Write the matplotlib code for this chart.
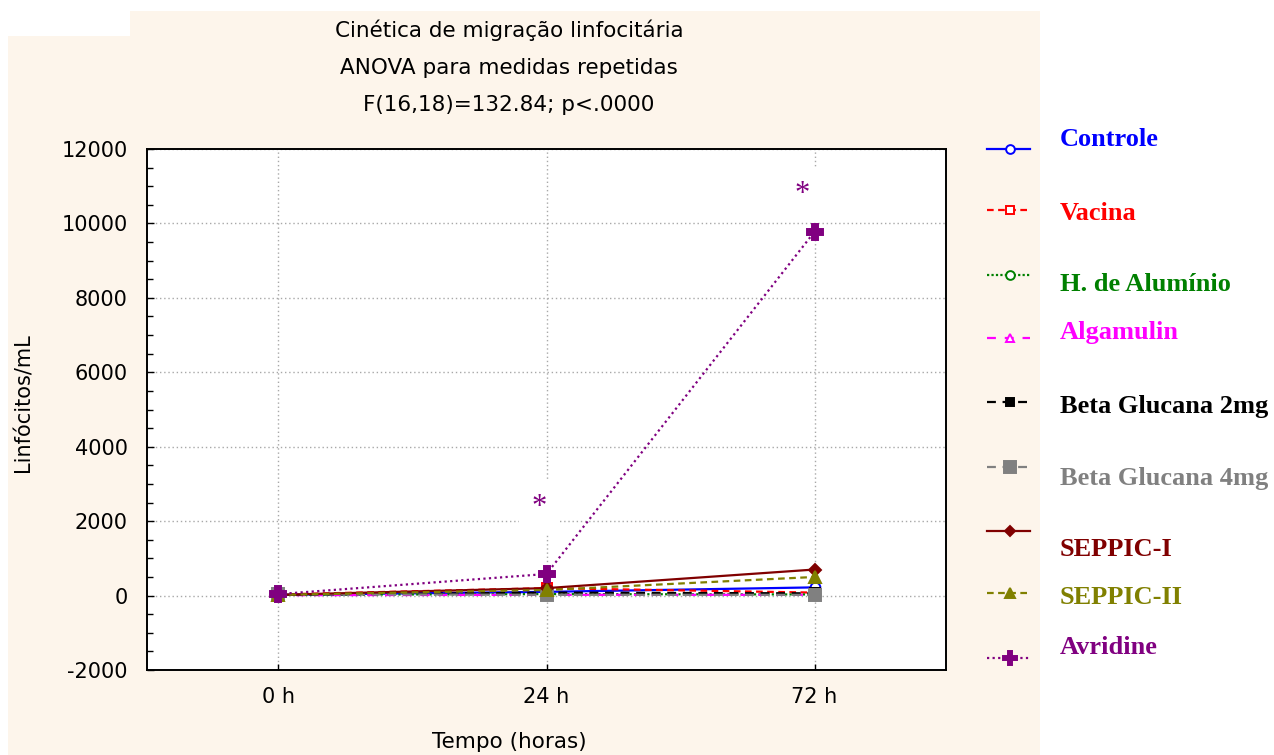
import matplotlib
matplotlib.use("Agg")
import matplotlib.pyplot as plt
from matplotlib.lines import Line2D
from matplotlib.patches import Rectangle
from matplotlib.ticker import MultipleLocator

plt.rcParams["axes.unicode_minus"] = False

# ---- data ----
time_labels = ["0 h", "24 h", "72 h"]
controle = [20, 100, 220]
vacina = [30, 200, 80]
h_aluminio = [20, 40, 30]
algamulin = [10, 20, 20]
beta_glucana_2mg = [20, 80, 60]
beta_glucana_4mg = [40, 20, 20]
seppic_1 = [20, 200, 700]
seppic_2 = [20, 150, 500]
avridine = [40, 580, 9780]

series_names = ["Controle", "Vacina", "H. de Alumínio", "Algamulin",
                "Beta Glucana 2mg", "Beta Glucana 4mg", "SEPPIC-I",
                "SEPPIC-II", "Avridine"]
series_values = [controle, vacina, h_aluminio, algamulin, beta_glucana_2mg,
                 beta_glucana_4mg, seppic_1, seppic_2, avridine]

title_lines = ["Cinética de migração linfocitária",
               "ANOVA para medidas repetidas",
               "F(16,18)=132.84; p<.0000"]

# ---- styles ----
styles = [
    dict(color="#0000FF", ls="-", marker="o", mfc="white", ms=7),
    dict(color="#FF0000", ls=(0, (3, 2)), marker="s", mfc="white", ms=7),
    dict(color="#008000", ls=(0, (1, 1)), marker="o", mfc="white", ms=7),
    dict(color="#FF00FF", ls=(0, (4, 4)), marker="^", mfc="white", ms=7),
    dict(color="#000000", ls=(0, (4, 3)), marker="s", mfc="#000000", ms=7),
    dict(color="#808080", ls=(0, (4, 3)), marker="s", mfc="#808080", ms=9),
    dict(color="#800000", ls="-", marker="D", mfc="#800000", ms=6),
    dict(color="#808000", ls=(0, (3, 2)), marker="^", mfc="#808000", ms=8),
    dict(color="#800080", ls=(0, (1, 1.5)), marker="P", mfc="#800080", ms=11),
]

W, H = 1274, 755
fig = plt.figure(figsize=(W / 100, H / 100), dpi=100)
fig.patch.set_facecolor("white")


def fx(px):
    return px / W


def fy(py):
    return 1 - py / H


# cream panel behind the chart
fig.add_artist(Rectangle((fx(8), fy(755)), fx(1040) - fx(8), fy(11) - fy(755),
                         transform=fig.transFigure, facecolor="#FDF5EB",
                         edgecolor="none", zorder=-10))
fig.add_artist(Rectangle((fx(8), fy(36)), fx(130) - fx(8), fy(11) - fy(36),
                         transform=fig.transFigure, facecolor="white",
                         edgecolor="none", zorder=-9))

ax = fig.add_axes([fx(147), fy(670), fx(946) - fx(147), fy(149) - fy(670)])
ax.set_facecolor("white")

x = list(range(len(time_labels)))
for vals, st in zip(series_values, styles):
    ax.plot(x, vals, color=st["color"], linestyle=st["ls"], lw=1.6,
            marker=st["marker"], markersize=st["ms"],
            markerfacecolor=st["mfc"], markeredgecolor=st["color"],
            markeredgewidth=1.4, clip_on=False, zorder=3)

ax.set_xlim(-0.49, 2.49)
ax.set_ylim(-2000, 12000)
ax.set_xticks(x)
ax.set_xticklabels(time_labels)
ax.yaxis.set_major_locator(MultipleLocator(2000))
ax.yaxis.set_minor_locator(MultipleLocator(500))
ax.tick_params(axis="both", which="both", direction="in", labelsize=15,
               colors="black")
ax.tick_params(axis="y", which="major", length=5, width=1, pad=14)
ax.tick_params(axis="y", which="minor", length=4, width=1)
ax.tick_params(axis="x", which="major", length=4, width=1, pad=12)
ax.grid(True, which="major", color="#A8A8A8", linestyle=(0, (1, 2)), lw=1)
for sp in ax.spines.values():
    sp.set_linewidth(1.4)
    sp.set_color("black")
for lbl in ax.get_xticklabels() + ax.get_yticklabels():
    lbl.set_family("DejaVu Sans")

# significance marks
for xi, yi in [(0.974, 2380), (1.955, 10790)]:
    ax.text(xi, yi, "*", fontsize=22, color="#800080", ha="center",
            va="center", family="Liberation Serif", zorder=4,
            bbox=dict(facecolor="white", edgecolor="none", pad=9))

# titles and axis labels
for yy, line in zip([30, 68, 105], title_lines):
    fig.text(fx(509), fy(yy), line, ha="center", va="center", fontsize=15.5,
             family="DejaVu Sans")
fig.text(fx(509), fy(742), "Tempo (horas)", ha="center", va="center",
         fontsize=15.5, family="DejaVu Sans")
fig.text(fx(24), fy(403), "Linfócitos/mL", ha="center", va="center",
         rotation=90, fontsize=15, family="DejaVu Sans")

# legend
handle_y = [149, 210, 275, 338, 402, 467, 531, 593, 658]
label_y = [140, 213, 285, 333, 407, 478, 550, 598, 647]
for name, st, hy, ly in zip(series_names, styles, handle_y, label_y):
    fig.add_artist(Line2D([fx(987), fx(1030)], [fy(hy), fy(hy)],
                          transform=fig.transFigure, color=st["color"],
                          linestyle=st["ls"], lw=1.6))
    fig.add_artist(Line2D([fx(1010)], [fy(hy)], transform=fig.transFigure,
                          marker=st["marker"], markersize=st["ms"] * 0.9,
                          markerfacecolor=st["mfc"],
                          markeredgecolor=st["color"], markeredgewidth=1.4,
                          linestyle="none"))
    fig.text(fx(1060), fy(ly), name, ha="left", va="center", fontsize=19,
             fontweight="bold", color=st["color"], family="Liberation Serif")

fig.savefig("out.png", dpi=100, facecolor=fig.get_facecolor())
